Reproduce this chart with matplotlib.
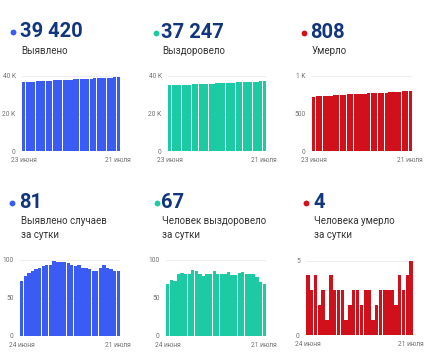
import matplotlib
matplotlib.use('Agg')
import matplotlib.pyplot as plt

plt.rcParams['font.family'] = ['Roboto', 'DejaVu Sans']

W, H = 430, 357

# накопительные данные, 23 июня - 21 июля
detected_total = [36827, 36899, 36978, 37061, 37147, 37235, 37325, 37417, 37510, 37604,
                  37703, 37800, 37897, 37995, 38091, 38185, 38277, 38370, 38460, 38549,
                  38637, 38723, 38808, 38897, 38990, 39080, 39168, 39254, 39339]
recovered_total = [34943, 35011, 35085, 35157, 35238, 35321, 35402, 35483, 35570, 35655,
                   35737, 35816, 35897, 35978, 36064, 36145, 36227, 36308, 36392, 36472,
                   36552, 36635, 36719, 36800, 36881, 36962, 37040, 37111, 37180]
deaths_total = [724, 728, 731, 735, 737, 740, 741, 745, 748, 751,
                754, 755, 757, 760, 763, 765, 768, 771, 772, 774,
                777, 780, 783, 786, 788, 792, 795, 799, 804]

# за сутки, 24 июня - 21 июля
detected_day = [72, 79, 83, 86, 88, 90, 92, 93, 94, 99, 97, 97, 98, 96, 94, 92, 93, 90,
                89, 88, 86, 85, 89, 93, 90, 88, 86, 85]
recovered_day = [68, 74, 72, 81, 83, 81, 81, 87, 85, 82, 79, 81, 81, 86, 81, 82, 81, 84,
                 80, 80, 83, 84, 81, 81, 81, 78, 71, 69]
deaths_day = [4, 3, 4, 2, 3, 1, 4, 3, 3, 3, 1, 2, 3, 3, 2, 3, 3, 1, 2, 3, 3, 3, 3, 2,
              4, 3, 4, 5]

BLUE = '#3b5cf4'
TEAL = '#1ccaa3'
RED = '#d0101b'
NAVY = '#12367e'

fig = plt.figure(figsize=(W / 100, H / 100), dpi=100)

# фон для подписей в пикселях
bg = fig.add_axes([0, 0, 1, 1])
bg.set_xlim(0, W)
bg.set_ylim(H, 0)
bg.axis('off')


def header(x_dot, y_dot, x_txt, y_num, number, lines, color):
    bg.plot([x_dot], [y_dot], 'o', color=color, markersize=4.2, markeredgewidth=0)
    bg.text(x_txt, y_num, number, color=NAVY, fontsize=14.5, fontweight='bold',
            va='baseline', ha='left')
    for i, line in enumerate(lines):
        bg.text(x_txt + 1.5, y_num + 17 + i * 13.5, line, color='#333333', fontsize=7,
                va='baseline', ha='left')


def bars(x0, x1, y_top, y_bot, values, color, ymax, yticks, ylabels, xlabels):
    ax = fig.add_axes([x0 / W, 1 - y_bot / H, (x1 - x0) / W, (y_bot - y_top) / H])
    ax.bar(range(len(values)), values, width=0.9, color=color, zorder=2)
    ax.set_xlim(-0.5, len(values) - 0.5)
    ax.set_ylim(0, ymax)
    ax.set_yticks(yticks)
    ax.set_yticklabels(ylabels)
    ax.set_xticks([0, len(values) - 1])
    ax.set_xticklabels(xlabels)
    ax.tick_params(length=0, labelsize=4.8, labelcolor='#707070', pad=4.5)
    ax.grid(axis='y', color='#eaeaea', linewidth=0.6, zorder=0)
    for s in ax.spines.values():
        s.set_visible(False)
    ax.patch.set_alpha(0)
    return ax


header(13.3, 32.3, 20, 37, '39 420', ['Выявлено'], BLUE)
header(156.3, 33, 161, 37.5, '37 247', ['Выздоровело'], TEAL)
header(303.7, 33, 310.5, 37.5, '808', ['Умерло'], RED)

header(12, 203, 19.5, 207.5, '81', ['Выявлено случаев', 'за сутки'], BLUE)
header(156.7, 203, 161, 207.5, '67', ['Человек выздоровело', 'за сутки'], TEAL)
header(306.3, 203.3, 313, 207.5, '4', ['Человека умерло', 'за сутки'], RED)

top_x = ['23 июня', '21 июля']
bot_x = ['24 июня', '21 июля']

bars(22, 120, 76, 151, detected_total, BLUE, 40000, [0, 20000, 40000], ['0', '20 K', '40 K'], top_x)
bars(168, 266, 76, 151, recovered_total, TEAL, 40000, [0, 20000, 40000], ['0', '20 K', '40 K'], top_x)
bars(312, 412, 76, 151, deaths_total, RED, 1000, [0, 500, 1000], ['0', '500', '1 K'], top_x)

bars(20, 120, 260, 336, detected_day, BLUE, 100, [0, 50, 100], ['0', '50', '100'], bot_x)
bars(166, 266, 260, 336, recovered_day, TEAL, 100, [0, 50, 100], ['0', '50', '100'], bot_x)
bars(306, 413, 260.5, 335, deaths_day, RED, 5, [0, 5], ['0', '5'], bot_x)

fig.savefig('out.png', dpi=100)
